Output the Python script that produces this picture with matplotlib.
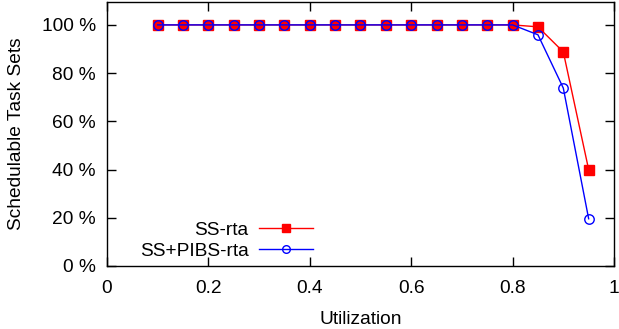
import matplotlib
matplotlib.use("Agg")
import matplotlib.pyplot as plt

plt.rcParams['font.family'] = ['Liberation Sans', 'DejaVu Sans']

utilization = [0.1, 0.15, 0.2, 0.25, 0.3, 0.35, 0.4, 0.45, 0.5, 0.55, 0.6, 0.65, 0.7, 0.75, 0.8, 0.85, 0.9, 0.95]
ss_rta = [100, 100, 100, 100, 100, 100, 100, 100, 100, 100, 100, 100, 100, 100, 100, 99.2, 88.8, 40.0]
ss_pibs_rta = [100, 100, 100, 100, 100, 100, 100, 100, 100, 100, 100, 100, 100, 100, 100, 95.9, 73.8, 19.6]
yticks = [0, 20, 40, 60, 80, 100]
xticks = [0, 0.2, 0.4, 0.6, 0.8, 1]

FS = 13.8

fig = plt.figure(figsize=(6.19, 3.29), dpi=100)
ax = fig.add_axes([107/619, 63/329, 507/619, 264/329])

ax.plot(utilization, ss_rta, color='#ff0000', marker='s', markersize=6.5, linewidth=1.0,
        label='SS-rta')
ax.plot(utilization, ss_pibs_rta, color='#0000ff', marker='o', markersize=6.8, linewidth=1.0,
        markerfacecolor='none', markeredgewidth=1.0, label='SS+PIBS-rta')

ax.set_xlim(0, 1)
ax.set_ylim(0, 109.5)
ax.set_xticks(xticks)
ax.set_xticklabels([f"{t:g}" for t in xticks])
ax.set_yticks(yticks)
ax.set_yticklabels([f"{t} %" for t in yticks])
ax.tick_params(direction='in', top=True, right=True, length=6.5, width=1, labelsize=FS)
ax.tick_params(axis='x', pad=10)
ax.tick_params(axis='y', pad=8)
for s in ax.spines.values():
    s.set_linewidth(1.0)

ax.set_xlabel('Utilization', fontsize=FS, labelpad=10)
ax.set_ylabel('Schedulable Task Sets', fontsize=FS, labelpad=12)

leg = ax.legend(loc='lower right', bbox_to_anchor=(0.406, 0.024), frameon=False, markerfirst=False,
                fontsize=FS, handlelength=2.8, handletextpad=0.55, labelspacing=0.16,
                borderaxespad=0.0, borderpad=0.0)
for h in leg.legend_handles:
    h.set_markersize(5.5)

fig.savefig('out.png', dpi=100)
